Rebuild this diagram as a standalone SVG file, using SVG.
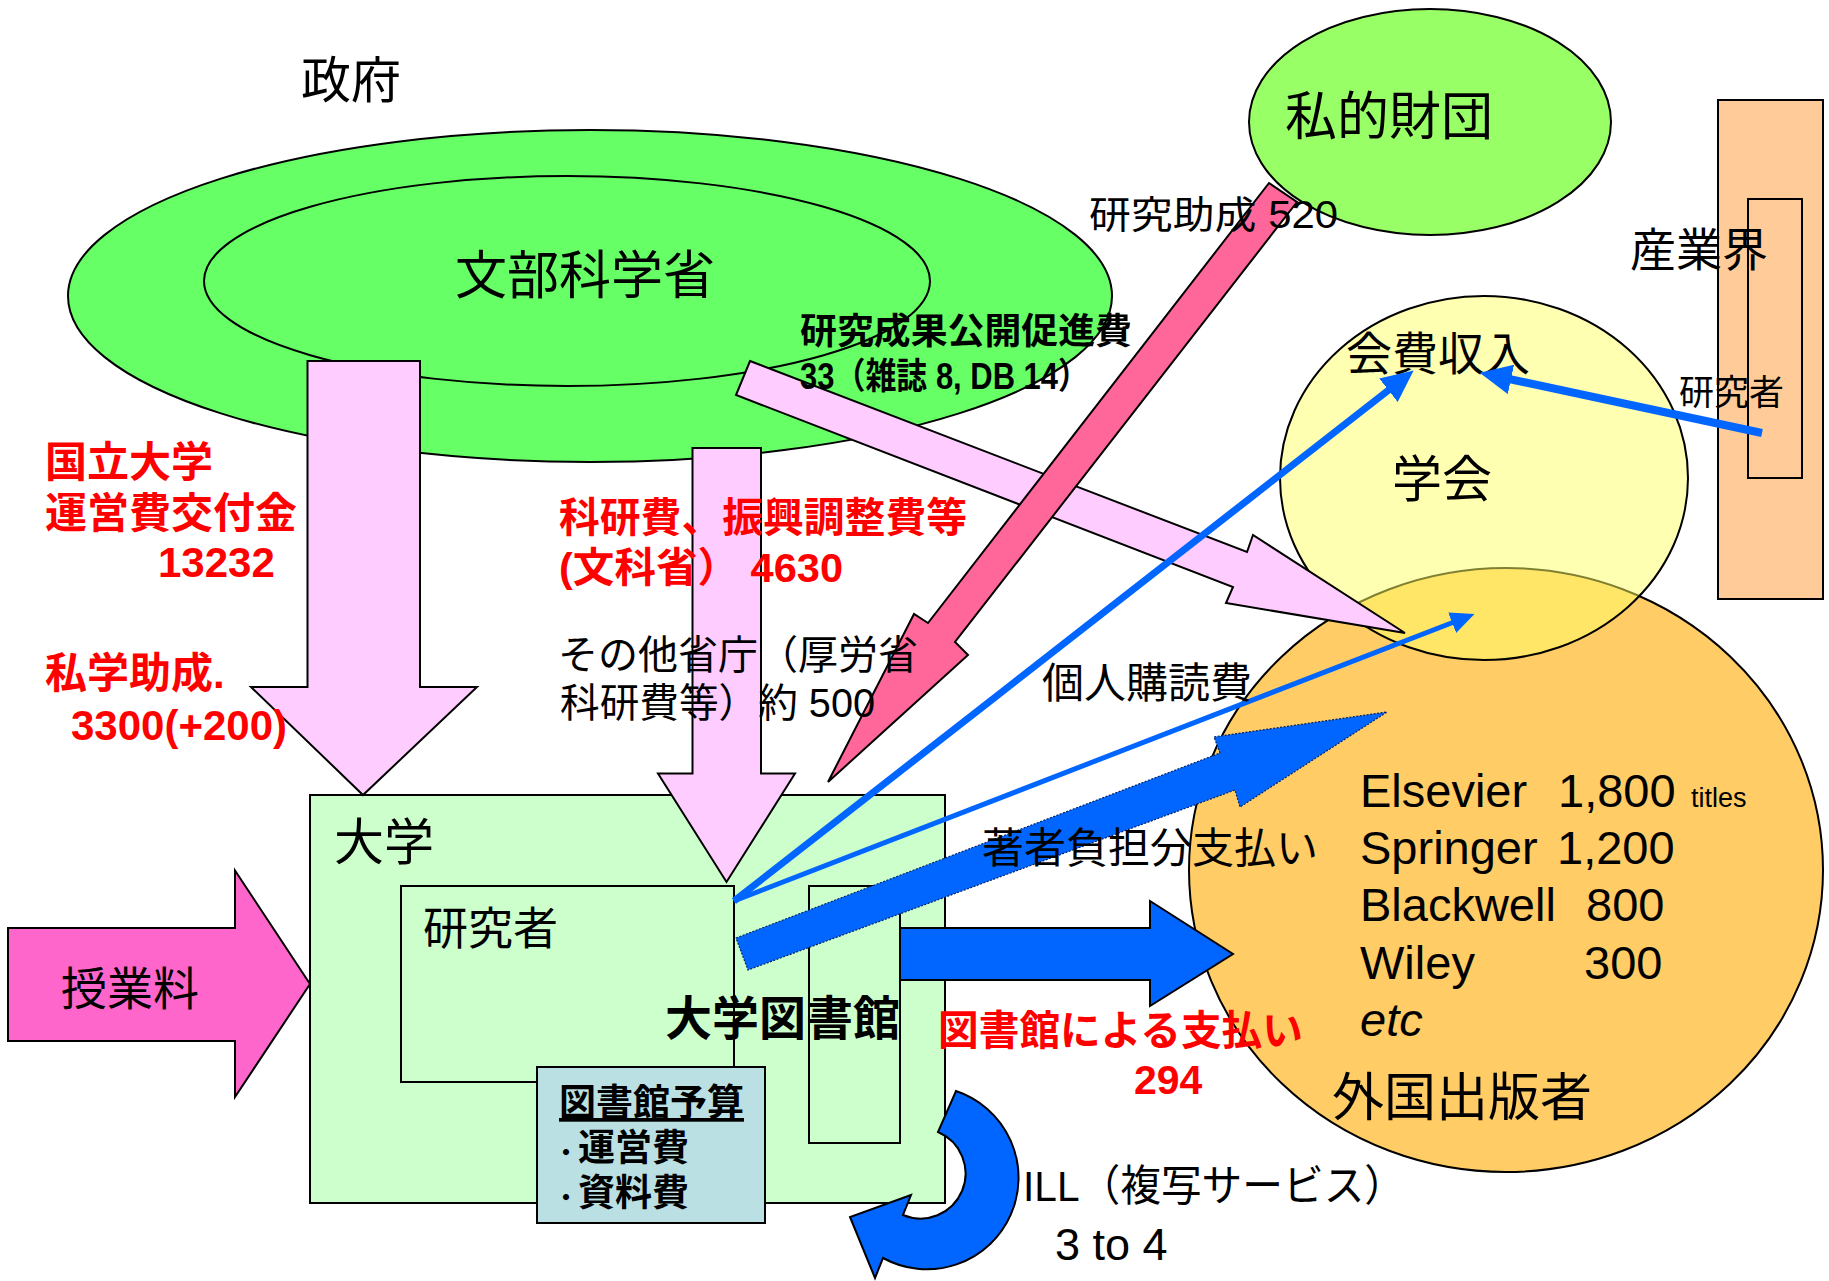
<svg xmlns="http://www.w3.org/2000/svg" width="1829" height="1281" viewBox="0 0 1829 1281">
<style>
.s{stroke:#000;stroke-width:2}
.t{font-family:"Liberation Sans","Noto Sans CJK JP",sans-serif;fill:#000}
.b{font-weight:bold}
.r{fill:#FF0000;font-weight:bold}
.pk{fill:#FFCCFF}
.bl{fill:#0066FF}
.ln{stroke:#0066FF;fill:none}
</style>
<defs>
<marker id="ah" markerUnits="userSpaceOnUse" markerWidth="34" markerHeight="30" refX="2" refY="15" orient="auto"><path d="M0,0 L32,15 L0,30 z" fill="#0066FF"/></marker>
<marker id="ah2" markerUnits="userSpaceOnUse" markerWidth="26" markerHeight="22" refX="2" refY="11" orient="auto"><path d="M0,0 L24,11 L0,22 z" fill="#0066FF"/></marker>
</defs>
<rect width="1829" height="1281" fill="#fff"/>

<g id="gov">
<ellipse cx="590" cy="296" rx="522" ry="166" fill="#66FF66" class="s"/>
<text class="t" x="301" y="98" font-size="50">政府</text>
</g>
<g id="mext">
<ellipse cx="567" cy="281" rx="363" ry="105" fill="#66FF66" class="s"/>
<text class="t" x="455" y="294" font-size="52">文部科学省</text>
</g>
<g id="foundation">
<ellipse cx="1430" cy="122" rx="181" ry="113" fill="#99FF66" class="s"/>
<text class="t" x="1285" y="135" font-size="52">私的財団</text>
</g>
<g id="industry">
<rect x="1718" y="100" width="105" height="499" fill="#FFCC99" class="s"/>
<rect x="1748" y="199" width="54" height="279" fill="none" class="s"/>
<text class="t" x="1630" y="266" font-size="46">産業界</text>
<text class="t" x="1679" y="405" font-size="35">研究者</text>
</g>
<g id="publishers">
<ellipse cx="1506" cy="870" rx="317" ry="302" fill="#FFCC66" class="s"/>
<text class="t" x="1360" y="807" font-size="47">Elsevier<tspan x="1558">1,800</tspan><tspan x="1691" font-size="27">titles</tspan></text>
<text class="t" x="1360" y="864" font-size="47">Springer<tspan x="1557">1,200</tspan></text>
<text class="t" x="1360" y="921" font-size="47">Blackwell<tspan x="1586">800</tspan></text>
<text class="t" x="1360" y="979" font-size="47">Wiley<tspan x="1584">300</tspan></text>
<text class="t" x="1360" y="1036" font-size="47" font-style="italic">etc</text>
<text class="t" x="1332" y="1116" font-size="52">外国出版者</text>
</g>
<g id="society">
<ellipse cx="1484" cy="478" rx="204" ry="182" fill="#FFFF66" fill-opacity="0.5" class="s"/>
<text class="t" x="1346" y="370" font-size="46">会費収入</text>
<text class="t" x="1392" y="497" font-size="50">学会</text>
</g>
<g id="university">
<rect x="310" y="795" width="635" height="408" fill="#CCFFCC" class="s"/>
<text class="t" x="334" y="860" font-size="50">大学</text>
</g>
<g id="researcher">
<rect x="401" y="886" width="333" height="196" fill="#CCFFCC" class="s"/>
<text class="t" x="423" y="945" font-size="45">研究者</text>
</g>
<g id="library">
<rect x="809" y="886" width="91" height="257" fill="#CCFFCC" class="s"/>
</g>
<g id="budget">
<rect x="537" y="1067" width="228" height="156" fill="#BBE0E3" class="s"/>
<text class="t b" x="559" y="1116" font-size="37" text-decoration="underline">図書館予算</text>
<text class="t b" x="554" y="1161" font-size="24">・<tspan x="578" font-size="37">運営費</tspan></text>
<text class="t b" x="554" y="1206" font-size="24">・<tspan x="578" font-size="37">資料費</tspan></text>
</g>

<g id="connectors">
<polygon class="pk s" points="307.5,361 420,361 420,687 477,687 363,795 251,687 307.5,687"/>
<polygon class="pk s" points="692.5,448 761,448 761,773.5 795,773.5 726.5,882 658,773.5 692.5,773.5"/>
<polygon class="pk s" points="750,361 1247,552 1253,535 1405,633 1226,603 1233,587 736,395"/>
<polygon fill="#FF6699" class="s" points="1269,183 1297,202 955,642 968,655 828,782 914,614 928,623"/>
<polygon fill="#FF66CC" class="s" points="8,928 235,928 235,870.5 310,984 235,1097 235,1041 8,1041"/>
<line class="ln" x1="734" y1="901" x2="1390" y2="389" stroke-width="7" marker-end="url(#ah)"/>
<line class="ln" x1="734" y1="901" x2="1454" y2="622" stroke-width="5" marker-end="url(#ah2)"/>
<line class="ln" x1="1762" y1="433" x2="1509" y2="379" stroke-width="8" marker-end="url(#ah)"/>
<polygon class="bl" stroke="#002266" stroke-width="1.2" stroke-dasharray="2 1.5" points="736,938 1220,753 1214,737 1387,712 1240,807 1235,790 748,970"/>
<polygon class="bl s" points="900,928 1150,928 1150,901 1233,954 1150,1006 1150,980 900,980"/>
<path class="bl s" d="M956,1091 A91.5,91.5 0 1 1 883,1258 L875,1278 L850,1217 L911,1195 L903,1215 A45,45 0 1 0 938,1132 Z"/>
</g>

<g id="labels">
<text class="t" x="1089" y="228" font-size="38" textLength="249" lengthAdjust="spacingAndGlyphs">研究助成 520</text>
<text class="t b" x="800" y="344" font-size="36" textLength="332" lengthAdjust="spacingAndGlyphs">研究成果公開促進費</text>
<text class="t b" x="800" y="389" font-size="36" textLength="289" lengthAdjust="spacingAndGlyphs">33（雑誌 8, DB 14）</text>
<text class="t r" x="45" y="477" font-size="42">国立大学</text>
<text class="t r" x="45" y="528" font-size="42">運営費交付金</text>
<text class="t r" x="158" y="577" font-size="42">13232</text>
<text class="t r" x="45" y="688" font-size="42">私学助成.</text>
<text class="t r" x="71" y="740" font-size="42">3300(+200)</text>
<text class="t r" x="559" y="532" font-size="41" textLength="408" lengthAdjust="spacingAndGlyphs">科研費、振興調整費等</text>
<text class="t r" x="559" y="582" font-size="41" textLength="284" lengthAdjust="spacingAndGlyphs">(文科省） 4630</text>
<text class="t" x="558" y="669" font-size="40">その他省庁（厚労省</text>
<text class="t" x="560" y="717" font-size="40" textLength="315" lengthAdjust="spacingAndGlyphs">科研費等）約 500</text>
<text class="t b" x="665" y="1035" font-size="47">大学図書館</text>
<text class="t" x="61" y="1005" font-size="46">授業料</text>
<text class="t" x="1042" y="698" font-size="42">個人購読費</text>
<text class="t" x="982" y="863" font-size="42">著者負担分支払い</text>
<text class="t r" x="938" y="1045" font-size="41" textLength="365" lengthAdjust="spacingAndGlyphs">図書館による支払い</text>
<text class="t r" x="1134" y="1094" font-size="41">294</text>
<text class="t" x="1023" y="1201" font-size="43" textLength="382" lengthAdjust="spacingAndGlyphs">ILL（複写サービス）</text>
<text class="t" x="1055" y="1260" font-size="45">3 to 4</text>
</g>
</svg>
